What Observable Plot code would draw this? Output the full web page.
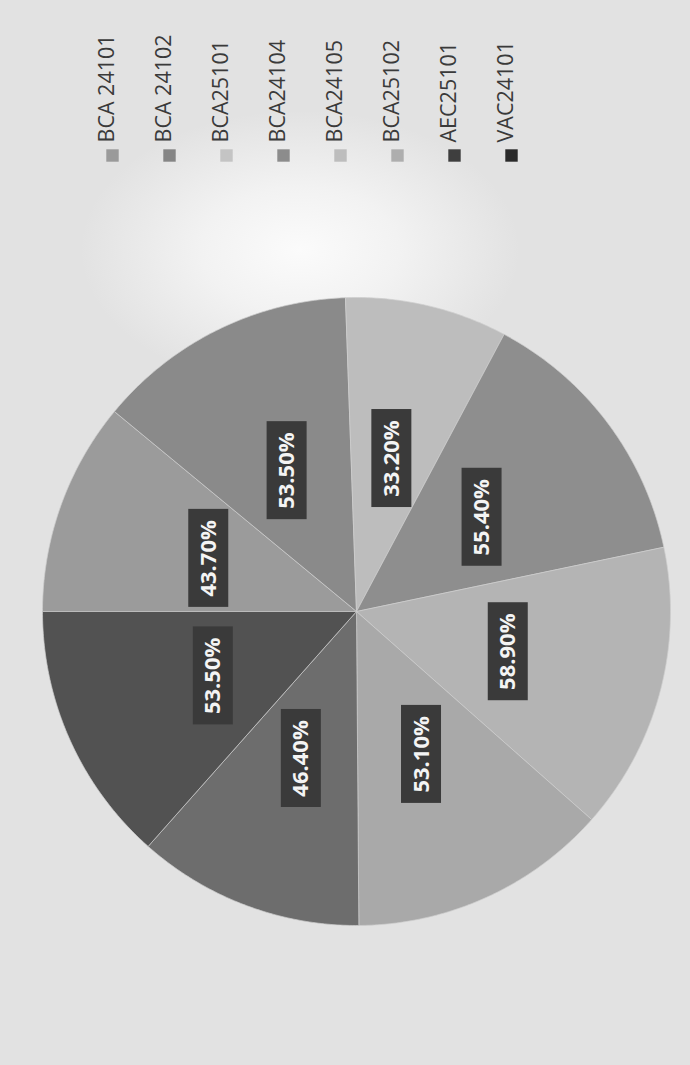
<!DOCTYPE html>
<html>
<head>
<meta charset="utf-8">
<script src="https://cdn.jsdelivr.net/npm/d3@7"></script>
<script src="https://cdn.jsdelivr.net/npm/@observablehq/plot@0.6"></script>
<style>
  html, body { margin: 0; padding: 0; }
  body {
    width: 690px; height: 1065px; overflow: hidden;
    background: radial-gradient(ellipse 220px 140px at 300px 250px, #fbfbfb 0%, #f2f2f2 45%, rgba(226,226,226,0) 100%), #e2e2e2;
    font-family: "Open Sans", sans-serif;
  }
  #chart svg { display: block; background: transparent; }
</style>
</head>
<body>
<div id="chart"></div>
<script>
// ---- data ----
const categories = ["BCA 24101", "BCA 24102", "BCA25101", "BCA24104", "BCA24105", "BCA25102", "AEC25101", "VAC24101"];
const values = [43.7, 53.5, 33.2, 55.4, 58.9, 53.1, 46.4, 53.5];
const labels = ["43.70%", "53.50%", "33.20%", "55.40%", "58.90%", "53.10%", "46.40%", "53.50%"];
const sliceColors = ["#9b9b9b", "#8a8a8a", "#bdbdbd", "#8e8e8e", "#b4b4b4", "#a9a9a9", "#6d6d6d", "#525252"];
const swatchColors = ["#9a9a9a", "#858585", "#c4c4c4", "#8c8c8c", "#bdbdbd", "#aeaeae", "#3e3e3e", "#2a2a2a"];

// ---- geometry derived from data (clockwise, first slice starts at the left of the page) ----
const rows = categories.map((c, i) => ({key: c, value: values[i], label: labels[i]}));
const arcs = d3.pie().value(d => d.value).sort(null).startAngle(-Math.PI / 2).endAngle(1.5 * Math.PI)(rows);

const polys = [];
arcs.forEach(a => {
  polys.push({key: a.data.key, x: 0, y: 0});
  const n = Math.max(8, Math.ceil((a.endAngle - a.startAngle) / 0.01));
  for (let k = 0; k <= n; k++) {
    const t = a.startAngle + (a.endAngle - a.startAngle) * k / n;
    polys.push({key: a.data.key, x: Math.sin(t), y: Math.cos(t)});
  }
  polys.push({key: a.data.key, x: 0, y: 0});
});

const labelPts = arcs.map(a => {
  const m = (a.startAngle + a.endAngle) / 2;
  return {key: a.data.key, label: a.data.label, x: 0.5 * Math.sin(m), y: 0.5 * Math.cos(m)};
});

const W = 690;
const R = 314;              // pie radius in px
const boxHW = 20 / R, boxHH = 49 / R;

// ---- legend ----
const legend = Plot.plot({
  width: W, height: 260,
  marginTop: 0, marginBottom: 105, marginLeft: 109, marginRight: 176,
  x: {type: "point", domain: categories, padding: 0, axis: null},
  color: {domain: categories, range: swatchColors},
  marks: [
    Plot.dot(categories, {x: d => d, fill: d => d, symbol: "square", r: 7, frameAnchor: "bottom"}),
    Plot.text(categories, {x: d => d, text: d => d, rotate: -90, textAnchor: "start", frameAnchor: "bottom",
      dy: -13, dx: 1, fontSize: 21.5, fill: "#3a3a3a", fontFamily: "Open Sans"})
  ]
});

// ---- pie ----
const pie = Plot.plot({
  width: W, height: 805,
  marginLeft: 42, marginRight: 20, marginTop: 37, marginBottom: 140,
  x: {domain: [-1, 1], axis: null},
  y: {domain: [-1, 1], axis: null},
  color: {domain: categories, range: sliceColors},
  marks: [
    Plot.line(polys, {x: "x", y: "y", z: "key", fill: "key", stroke: "#cfcfcf", strokeWidth: 1, strokeOpacity: 0.7, curve: "linear"}),
    Plot.rect(labelPts, {x1: d => d.x - boxHW, x2: d => d.x + boxHW, y1: d => d.y - boxHH, y2: d => d.y + boxHH, fill: "#3a3a3a"}),
    Plot.text(labelPts, {x: "x", y: "y", text: "label", rotate: -90, fill: "#f4f4f4", fontSize: 22, fontWeight: "bold", fontFamily: "Open Sans"})
  ]
});

const root = document.getElementById("chart");
root.appendChild(legend);
root.appendChild(pie);
</script>
</body>
</html>
